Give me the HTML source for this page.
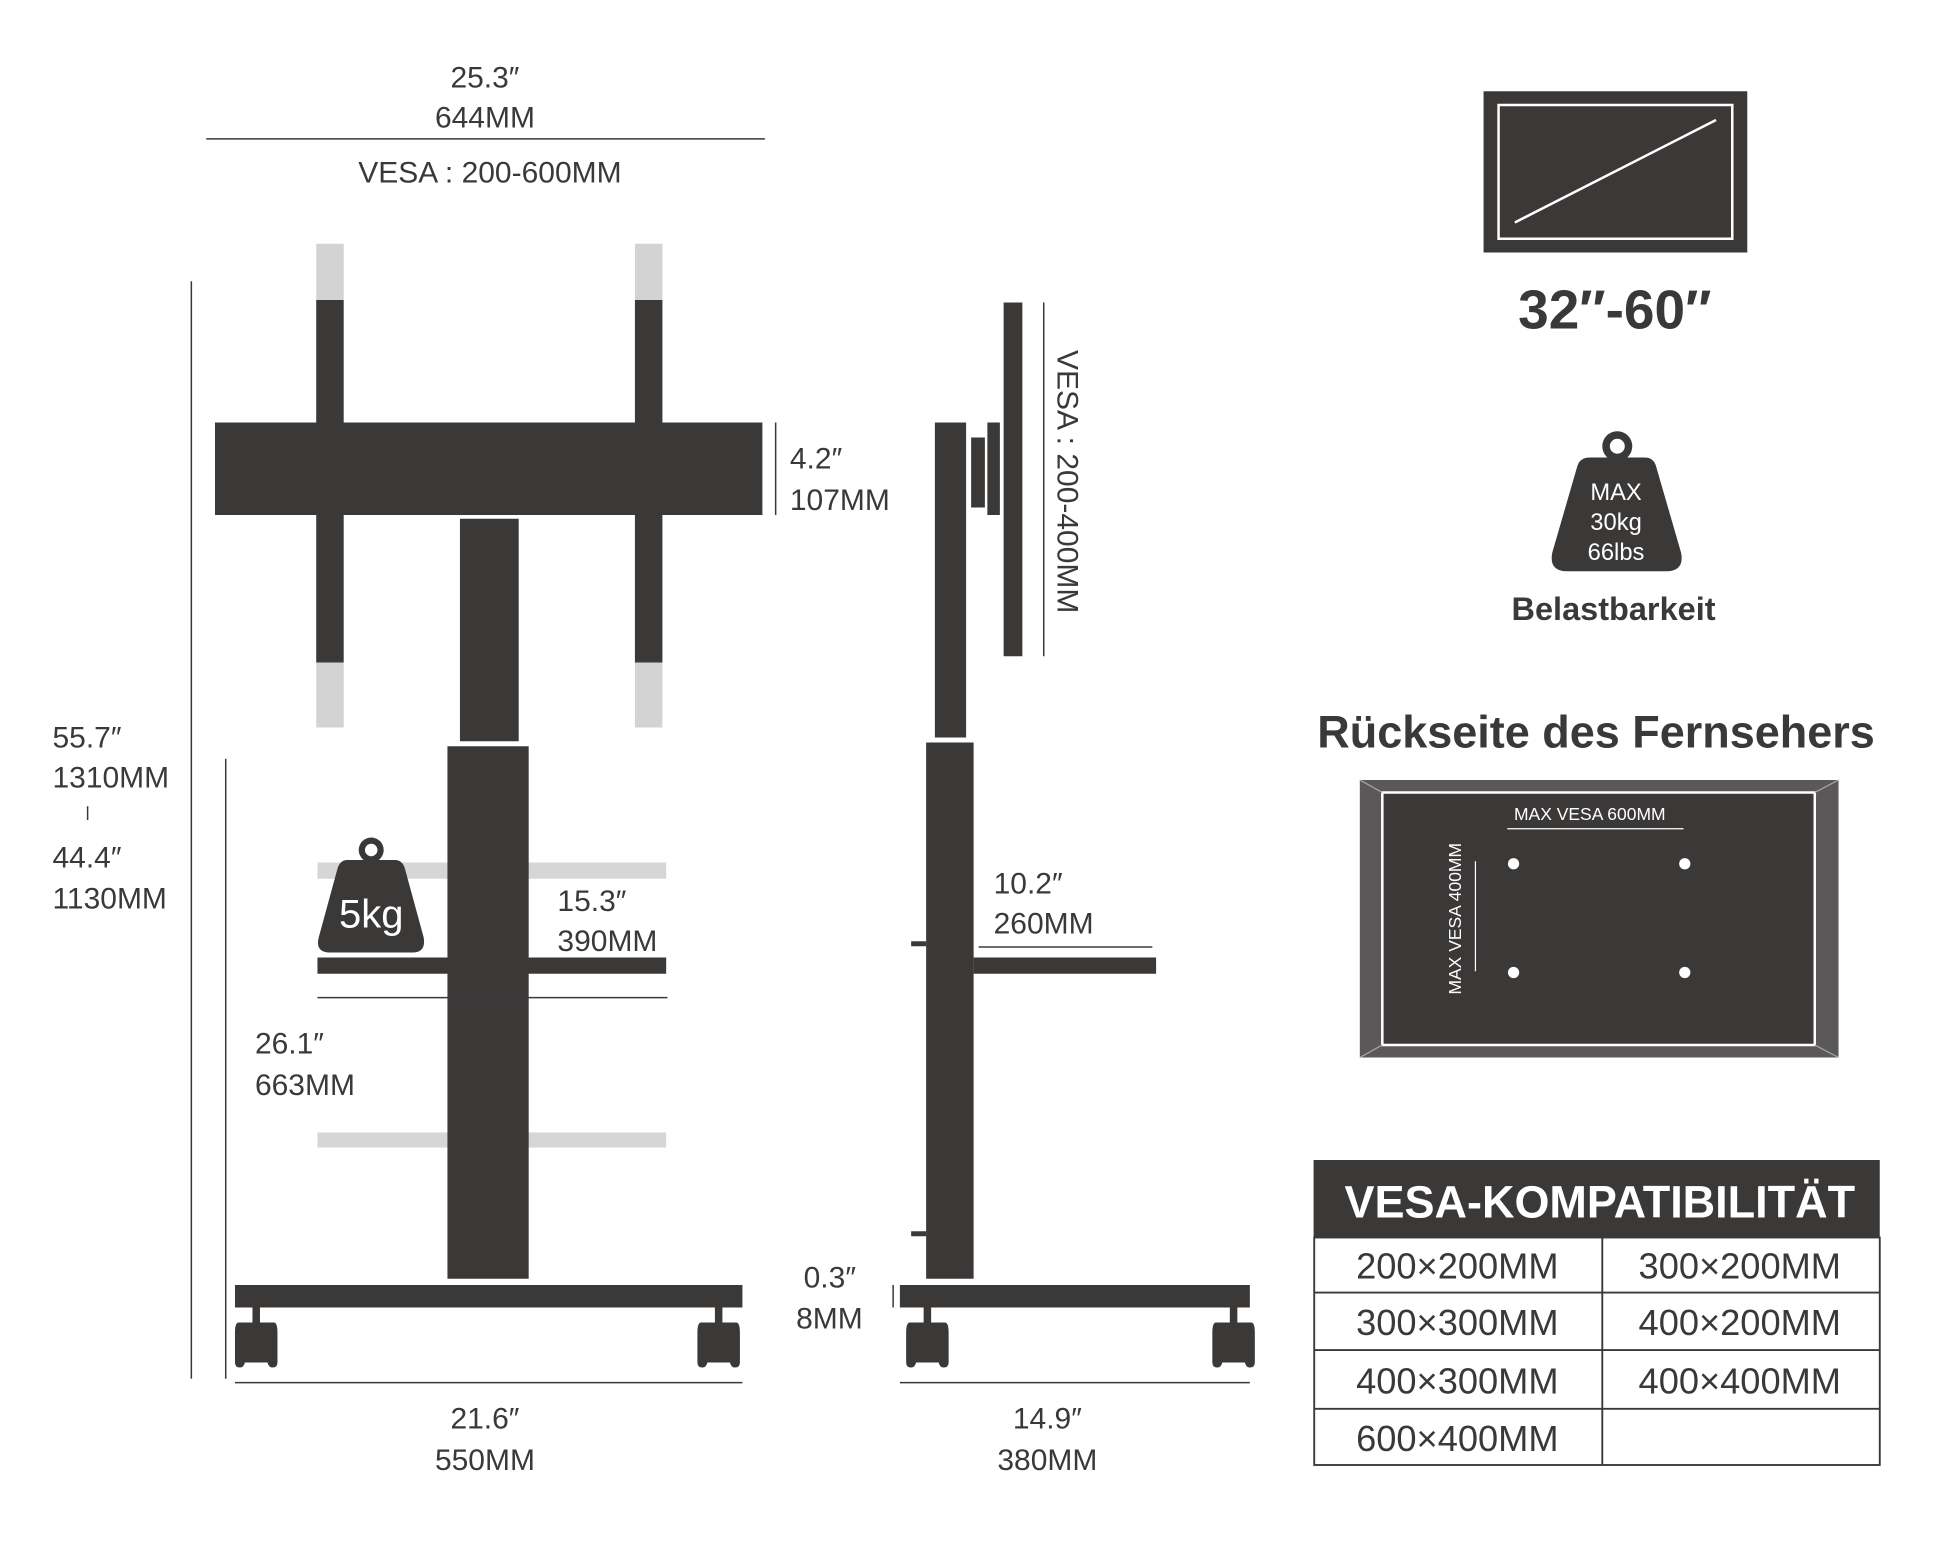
<!DOCTYPE html>
<html><head><meta charset="utf-8">
<style>
html,body{margin:0;padding:0;background:#fff;}
svg{display:block;}
text{font-family:"Liberation Sans Narrow","Liberation Sans",sans-serif;fill:#3b3838;}
.b{font-family:"Liberation Sans",sans-serif;font-weight:bold;}
</style></head><body>
<svg width="1946" height="1557" viewBox="0 0 1557 1245.6" preserveAspectRatio="none" xmlns="http://www.w3.org/2000/svg">
<defs>
<g id="wheel">
<rect x="-3" y="0" width="6" height="14" fill="#3b3838"/>
<path d="M-14 12 Q-17 12 -17 20 L-17 44 Q-17 48 -13 48 Q-10 48 -9 44 L9 44 Q10 48 13 48 Q17 48 17 44 L17 20 Q17 12 14 12 Z" fill="#3b3838"/>
</g>
</defs>
<g fill="#3b3838" stroke="none">
<!-- top dims -->
<text x="388" y="70" font-size="24" text-anchor="middle">25.3″</text>
<text x="388" y="102" font-size="24" text-anchor="middle">644MM</text>
<rect x="165" y="110.5" width="447" height="1.2"/>
<text x="392" y="146" font-size="24" text-anchor="middle">VESA : 200-600MM</text>
<!-- left verticals -->
<rect x="152.5" y="225" width="1.2" height="878"/>
<rect x="180" y="607" width="1.2" height="496"/>
<text x="42" y="598" font-size="24">55.7″</text>
<text x="42" y="630" font-size="24">1310MM</text>
<rect x="69.5" y="645" width="1.2" height="11"/>
<text x="42" y="694" font-size="24">44.4″</text>
<text x="42" y="727" font-size="24">1130MM</text>
<!-- uprights -->
<rect x="253" y="195" width="22" height="45" fill="#d3d3d3"/>
<rect x="253" y="240" width="22" height="290"/>
<rect x="253" y="530" width="22" height="52" fill="#d3d3d3"/>
<rect x="508" y="195" width="22" height="45" fill="#d3d3d3"/>
<rect x="508" y="240" width="22" height="290"/>
<rect x="508" y="530" width="22" height="52" fill="#d3d3d3"/>
<rect x="172" y="338" width="438" height="74"/>
<rect x="620" y="338" width="1.2" height="74"/>
<text x="632" y="375" font-size="24">4.2″</text>
<text x="632" y="408" font-size="24">107MM</text>
<!-- shelves -->
<rect x="254" y="690" width="279" height="13" fill="#d6d6d6"/>
<rect x="254" y="906" width="279" height="12" fill="#d6d6d6"/>
<rect x="368" y="415" width="47" height="178"/>
<rect x="358" y="597" width="65" height="426"/>
<rect x="254" y="766" width="279" height="13"/>
<rect x="254" y="797.5" width="280" height="1.2"/>
<!-- 5kg weight -->
<circle cx="297" cy="680" r="10"/>
<circle cx="297" cy="680" r="5" fill="#fff"/>
<path d="M278 688 L316 688 Q322 688 324 695 L339 750 Q341 762 330 762 L264 762 Q252 762 255 750 L270 695 Q272 688 278 688 Z"/>
<text x="297" y="742" font-size="32" text-anchor="middle" style="fill:#fff">5kg</text>
<text x="446" y="729" font-size="24">15.3″</text>
<text x="446" y="761" font-size="24">390MM</text>
<text x="204" y="843" font-size="24">26.1″</text>
<text x="204" y="876" font-size="24">663MM</text>
<!-- base -->
<rect x="188" y="1028" width="406" height="18"/>
<use href="#wheel" x="205" y="1046"/>
<use href="#wheel" x="575" y="1046"/>
<rect x="188" y="1105.5" width="406" height="1.2"/>
<text x="388" y="1143" font-size="24" text-anchor="middle">21.6″</text>
<text x="388" y="1176" font-size="24" text-anchor="middle">550MM</text>
<!-- side view -->
<rect x="803" y="242" width="15" height="283"/>
<rect x="834.5" y="242" width="1.2" height="283"/>
<text font-size="24" transform="translate(846,280) rotate(90)">VESA : 200-400MM</text>
<rect x="790" y="338" width="10" height="74"/>
<rect x="777" y="350" width="11" height="56"/>
<rect x="748" y="338" width="25" height="252"/>
<rect x="741" y="594" width="38" height="429"/>
<rect x="729" y="753" width="12" height="4"/>
<rect x="729" y="985" width="12" height="4"/>
<rect x="779" y="766" width="146" height="13"/>
<rect x="783" y="757" width="139" height="1.2"/>
<text x="795" y="715" font-size="24">10.2″</text>
<text x="795" y="747" font-size="24">260MM</text>
<rect x="720" y="1028" width="280" height="18"/>
<rect x="714" y="1028" width="1.2" height="18"/>
<use href="#wheel" x="742" y="1046"/>
<use href="#wheel" x="987" y="1046"/>
<rect x="720" y="1105.5" width="280" height="1.2"/>
<text x="838" y="1143" font-size="24" text-anchor="middle">14.9″</text>
<text x="838" y="1176" font-size="24" text-anchor="middle">380MM</text>
<text x="643" y="1030" font-size="24">0.3″</text>
<text x="637" y="1063" font-size="24">8MM</text>
<!-- TV icon -->
<rect x="1187" y="73" width="211" height="129"/>
<rect x="1199" y="84" width="187" height="107" fill="none" stroke="#fff" stroke-width="2"/>
<line x1="1212" y1="178" x2="1373" y2="96" stroke="#fff" stroke-width="2"/>
<text x="1292" y="263" font-size="44" text-anchor="middle" class="b">32″-60″</text>
<!-- max weight -->
<circle cx="1294" cy="357" r="12"/>
<circle cx="1294" cy="357" r="6" fill="#fff"/>
<path d="M1272 366 L1316 366 Q1323 366 1325 373 L1345 442 Q1348 457 1333 457 L1254 457 Q1239 457 1242 442 L1262 373 Q1264 366 1272 366 Z"/>
<text x="1293" y="400" font-size="19" text-anchor="middle" style="fill:#fff">MAX</text>
<text x="1293" y="424" font-size="19" text-anchor="middle" style="fill:#fff">30kg</text>
<text x="1293" y="448" font-size="19" text-anchor="middle" style="fill:#fff">66lbs</text>
<text x="1291" y="496" font-size="26" text-anchor="middle" class="b">Belastbarkeit</text>
<text x="1277" y="598" font-size="36" text-anchor="middle" class="b">Rückseite des Fernsehers</text>
<!-- back frame -->
<rect x="1088" y="624" width="383" height="222" fill="#5a5858"/>
<polygon points="1106,634 1452,634 1452,836 1106,836" fill="#3b3838" stroke="#fff" stroke-width="2"/>
<line x1="1088" y1="624" x2="1106" y2="634" stroke="#aaa" stroke-width="1"/>
<line x1="1471" y1="624" x2="1452" y2="634" stroke="#aaa" stroke-width="1"/>
<line x1="1088" y1="846" x2="1106" y2="836" stroke="#aaa" stroke-width="1"/>
<line x1="1471" y1="846" x2="1452" y2="836" stroke="#aaa" stroke-width="1"/>
<text x="1272" y="656" font-size="14" text-anchor="middle" style="fill:#fff">MAX VESA 600MM</text>
<rect x="1206" y="662.5" width="141" height="1" fill="#fff"/>
<text font-size="14" text-anchor="middle" style="fill:#fff" transform="translate(1169,735) rotate(-90)">MAX VESA 400MM</text>
<rect x="1180" y="689" width="1" height="88" fill="#fff"/>
<circle cx="1211" cy="691" r="4.5" fill="#fff"/>
<circle cx="1348" cy="691" r="4.5" fill="#fff"/>
<circle cx="1211" cy="778" r="4.5" fill="#fff"/>
<circle cx="1348" cy="778" r="4.5" fill="#fff"/>
<!-- table -->
<rect x="1051" y="928" width="453" height="62"/>
<text x="1280" y="974" font-size="36" text-anchor="middle" class="b" style="fill:#fff">VESA-KOMPATIBILITÄT</text>
</g>
<g fill="none" stroke="#3b3838" stroke-width="1.5">
<rect x="1051.5" y="990" width="452.5" height="182"/>
<line x1="1051" y1="1034" x2="1504" y2="1034"/>
<line x1="1051" y1="1080" x2="1504" y2="1080"/>
<line x1="1051" y1="1127" x2="1504" y2="1127"/>
<line x1="1282" y1="990" x2="1282" y2="1172"/>
</g>
<g font-size="29" text-anchor="middle">
<text x="1166" y="1023">200×200MM</text><text x="1392" y="1023">300×200MM</text>
<text x="1166" y="1068">300×300MM</text><text x="1392" y="1068">400×200MM</text>
<text x="1166" y="1115">400×300MM</text><text x="1392" y="1115">400×400MM</text>
<text x="1166" y="1161">600×400MM</text>
</g>
</svg>
</body></html>
